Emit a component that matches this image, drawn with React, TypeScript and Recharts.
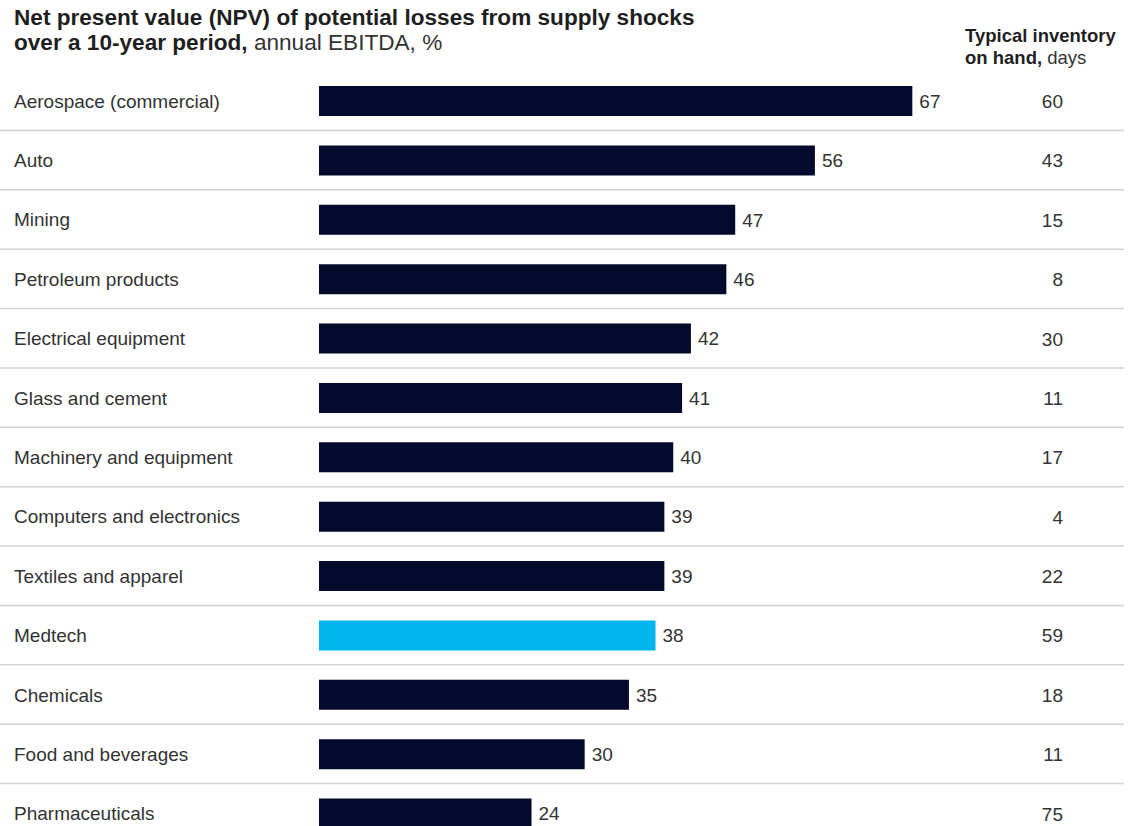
import { BarChart, Bar, XAxis, YAxis, Cell, LabelList } from 'recharts';

const industries = [
  'Aerospace (commercial)',
  'Auto',
  'Mining',
  'Petroleum products',
  'Electrical equipment',
  'Glass and cement',
  'Machinery and equipment',
  'Computers and electronics',
  'Textiles and apparel',
  'Medtech',
  'Chemicals',
  'Food and beverages',
  'Pharmaceuticals',
];
const npvPct = [67, 56, 47, 46, 42, 41, 40, 39, 39, 38, 35, 30, 24];
const inventoryDays = [60, 43, 15, 8, 30, 11, 17, 4, 22, 59, 18, 11, 75];
const highlighted = 'Medtech';

const NAVY = '#030a2b';
const CYAN = '#00b6ed';
const TEXT = '#333333';
const FONT = '"Liberation Sans", Arial, sans-serif';

const data = industries.map((name, i) => ({
  name,
  npv: npvPct[i],
  days: inventoryDays[i],
  color: name === highlighted ? CYAN : NAVY,
}));

const ROW = 59.4;

const IndustryTick = (props: any) => {
  const { y, payload } = props;
  return (
    <g>
      <text x={14} y={y} dy={7} fontSize={19} fill={TEXT} fontFamily={FONT} textAnchor="start">
        {payload.value}
      </text>
      <line x1={0} x2={1124} y1={y + ROW / 2} y2={y + ROW / 2} stroke="#d2d2d2" strokeWidth={1.5} />
    </g>
  );
};

const DaysLabel = (props: any) => {
  const { y, height, value } = props;
  return (
    <text x={1063} y={y + height / 2} dy={7} fontSize={19} fill={TEXT} fontFamily={FONT} textAnchor="end">
      {value}
    </text>
  );
};

export default function App() {
  return (
    <div style={{ position: 'absolute', left: 0, top: 0, width: 1136, height: 826, overflow: 'hidden', background: '#fff', fontFamily: FONT }}>
      <div style={{ position: 'absolute', left: 14, top: 5, fontSize: 22.6, lineHeight: '25px', color: '#1f1f1f', whiteSpace: 'nowrap' }}>
        <b>Net present value (NPV) of potential losses from supply shocks</b>
        <br />
        <b>over a 10-year period,</b> <span style={{ color: TEXT }}>annual EBITDA, %</span>
      </div>
      <div style={{ position: 'absolute', left: 965, top: 25, fontSize: 18.5, lineHeight: '21.5px', color: '#1f1f1f', whiteSpace: 'nowrap' }}>
        <b>Typical inventory</b>
        <br />
        <b>on hand,</b> <span style={{ color: TEXT }}>days</span>
      </div>
      <BarChart
        width={1136}
        height={850}
        data={data}
        layout="vertical"
        margin={{ top: 71, right: 20, bottom: 7, left: 0 }}
        barSize={30}
      >
        <XAxis type="number" domain={[0, 90]} hide />
        <YAxis
          type="category"
          dataKey="name"
          width={319}
          axisLine={false}
          tickLine={false}
          tick={<IndustryTick />}
          interval={0}
        />
        <Bar dataKey="npv" isAnimationActive={false}>
          {data.map((d, i) => (
            <Cell key={`c-${i}`} fill={d.color} />
          ))}
          <LabelList dataKey="npv" position="right" offset={7} fill={TEXT} fontSize={19} fontFamily={FONT} />
          <LabelList dataKey="days" content={<DaysLabel />} />
        </Bar>
      </BarChart>
    </div>
  );
}
